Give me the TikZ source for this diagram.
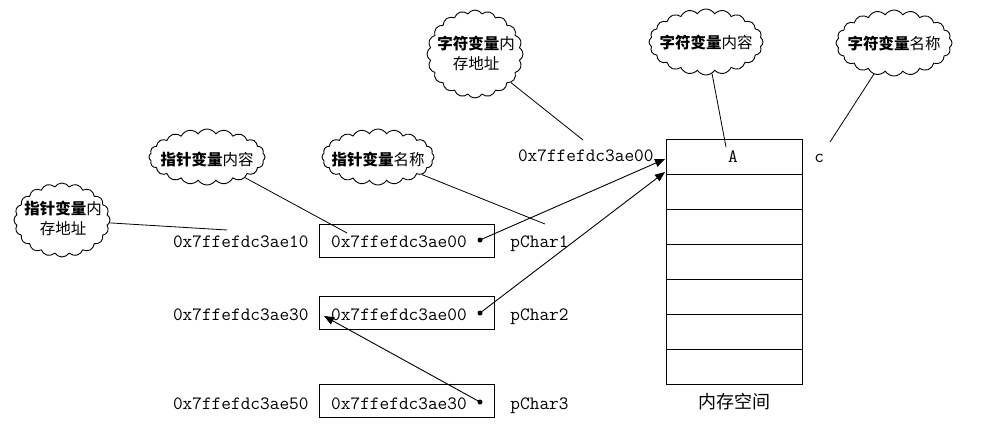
\documentclass[tikz,border=0pt]{standalone}
\usepackage{fontspec}
\newfontfamily\cjk{Noto Sans CJK SC}
\usetikzlibrary{shapes.symbols,arrows.meta}
\begin{document}
\begin{tikzpicture}[x=1pt,y=-1pt,
  line width=0.9pt,
  addr/.style={font=\fontsize{18.8}{20}\selectfont\ttfamily, inner sep=0pt},
  ptrbox/.style={draw, minimum width=175pt, minimum height=33pt, inner sep=0pt},
  memrow/.style={draw, minimum width=136pt, minimum height=35pt, inner sep=0pt, outer sep=0pt},
  bubble/.style={cloud, cloud puffs=20, cloud puff arc=115, cloud ignores aspect, draw, inner sep=0pt},
  btext/.style={font=\fontsize{15.5}{20}\selectfont\cjk, align=center, inner sep=0pt},
  dot/.style={circle, fill, inner sep=0pt, minimum size=5pt},
  arr/.style={-{Triangle[length=10pt,width=8pt]}},
  conn/.style={line width=0.8pt},
]
\useasboundingbox (0,0) rectangle (1008,434);

% memory block
\node[memrow] (m1) at (734,156.5) {};
\node[memrow] (m2) at (734,191.5) {};
\node[memrow] (m3) at (734,226.5) {};
\node[memrow] (m4) at (734,261.5) {};
\node[memrow] (m5) at (734,296.5) {};
\node[memrow] (m6) at (734,331.5) {};
\node[memrow] (m7) at (734,366.5) {};
\node[addr, anchor=base] (A) at (733,162) {A};
\node[addr, anchor=base west] (cname) at (814,162) {c};
\node[font=\fontsize{18}{20}\selectfont\cjk, inner sep=0pt] (memlbl) at (734,402) {内存空间};
\node[addr, anchor=base east] (caddr) at (654,161) {0x7ffefdc3ae00};

% pointer boxes
\node[ptrbox] (b1) at (406.5,240.5) {};
\node[ptrbox] (b2) at (406.5,312.5) {};
\node[ptrbox] (b3) at (406.5,401) {};
\node[addr, anchor=base] (v1) at (399,247) {0x7ffefdc3ae00};
\node[addr, anchor=base] (v2) at (399,320) {0x7ffefdc3ae00};
\node[addr, anchor=base] (v3) at (399,409) {0x7ffefdc3ae30};
\node[dot] (d1) at (480,240) {};
\node[dot] (d2) at (480,313) {};
\node[dot] (d3) at (480,402) {};
\node[addr, anchor=base east] (a1) at (309,247) {0x7ffefdc3ae10};
\node[addr, anchor=base east] (a2) at (309,320) {0x7ffefdc3ae30};
\node[addr, anchor=base east] (a3) at (309,409) {0x7ffefdc3ae50};
\node[addr, anchor=base west] (p1) at (510,247) {pChar1};
\node[addr, anchor=base west] (p2) at (510,320) {pChar2};
\node[addr, anchor=base west] (p3) at (510,409) {pChar3};

% arrows
\coordinate (t1) at (665,159);
\coordinate (t2) at (665,172);
\coordinate (t3) at (324,316);
\draw[arr] (d1.center) -- (t1);
\draw[arr] (d2.center) -- (t2);
\draw[arr] (d3.center) -- (t3);

% clouds
\node[bubble, minimum width=96pt, minimum height=74pt] (c1) at (62,220) {};
\node[btext] (c1t) at (63,218) {{\bfseries 指针变量}内\\存地址};
\node[bubble, minimum width=116pt, minimum height=56pt] (c2) at (207,157) {};
\node[btext] (c2t) at (207,160) {{\bfseries 指针变量}内容};
\node[bubble, minimum width=112pt, minimum height=56pt] (c3) at (378,157) {};
\node[btext] (c3t) at (378,160) {{\bfseries 指针变量}名称};
\node[bubble, minimum width=96pt, minimum height=88pt] (c4) at (475,54) {};
\node[btext] (c4t) at (476,53) {{\bfseries 字符变量}内\\存地址};
\node[bubble, minimum width=114pt, minimum height=66pt] (c5) at (706,42) {};
\node[btext] (c5t) at (706,43) {{\bfseries 字符变量}内容};
\node[bubble, minimum width=116pt, minimum height=66pt] (c6) at (894,43) {};
\node[btext] (c6t) at (894,44) {{\bfseries 字符变量}名称};

% cloud connectors
\coordinate (e1) at (227,230);
\coordinate (e2) at (347,233);
\coordinate (e3) at (545,224);
\coordinate (e4) at (583,140);
\coordinate (e5) at (726,147);
\coordinate (e6) at (830,142);
\draw[conn] (c1) -- (e1);
\draw[conn] (c2) -- (e2);
\draw[conn] (c3) -- (e3);
\draw[conn] (c4) -- (e4);
\draw[conn] (c5) -- (e5);
\draw[conn] (c6) -- (e6);
\end{tikzpicture}
\end{document}
